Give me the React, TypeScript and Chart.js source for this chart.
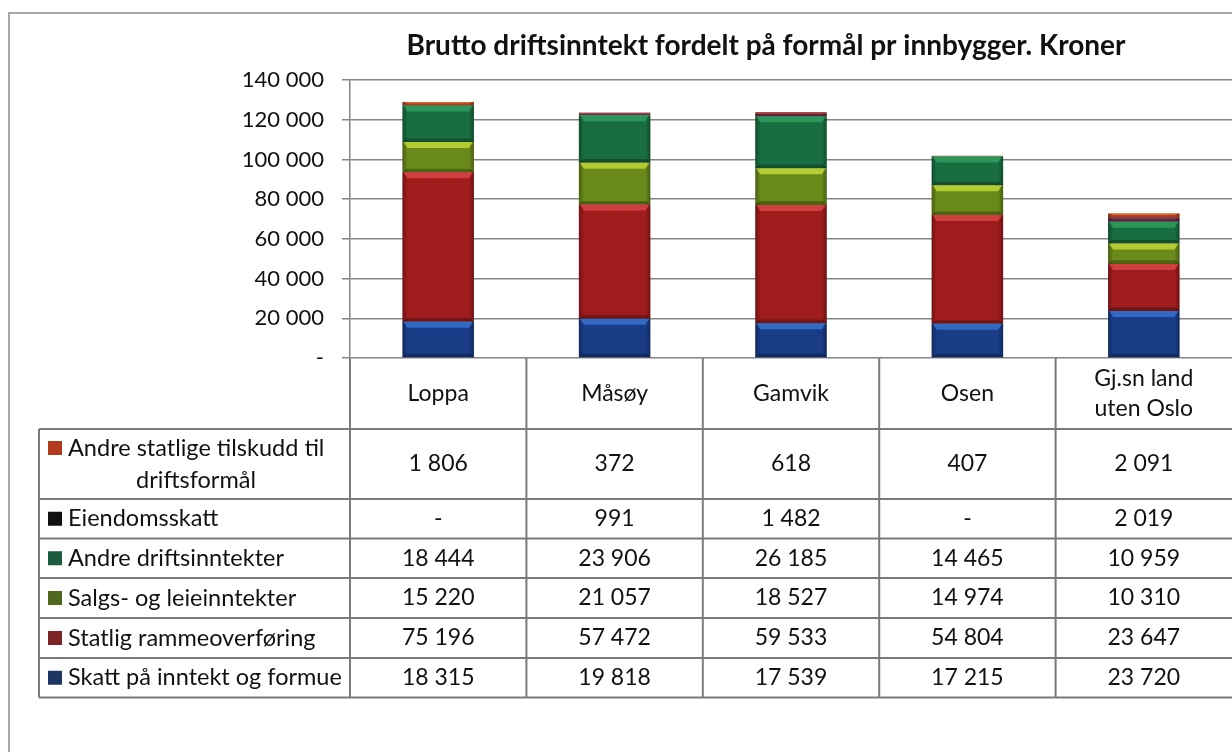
import React, { useEffect, useRef } from "react";
import { Chart, registerables } from "chart.js";

Chart.register(...registerables);

// ---------- DATA ----------
const categories = ["Loppa", "Måsøy", "Gamvik", "Osen", "Gj.sn land uten Oslo"];
const categoryLines = [["Loppa"], ["Måsøy"], ["Gamvik"], ["Osen"], ["Gj.sn land", "uten Oslo"]];

const skattValues = [18315, 19818, 17539, 17215, 23720];
const rammeValues = [75196, 57472, 59533, 54804, 23647];
const salgsValues = [15220, 21057, 18527, 14974, 10310];
const andreDriftValues = [18444, 23906, 26185, 14465, 10959];
const eiendomValues = [0, 991, 1482, 0, 2019];
const andreStatligeValues = [1806, 372, 618, 407, 2091];

const seriesNames = [
  "Skatt på inntekt og formue",
  "Statlig rammeoverføring",
  "Salgs- og leieinntekter",
  "Andre driftsinntekter",
  "Eiendomsskatt",
  "Andre statlige tilskudd til driftsformål",
];
const seriesLabelLines = [
  ["Skatt på inntekt og formue"],
  ["Statlig rammeoverføring"],
  ["Salgs- og leieinntekter"],
  ["Andre driftsinntekter"],
  ["Eiendomsskatt"],
  ["Andre statlige tilskudd til", "driftsformål"],
];
const seriesValues = [skattValues, rammeValues, salgsValues, andreDriftValues, eiendomValues, andreStatligeValues];

const titleText = "Brutto driftsinntekt fordelt på formål pr innbygger. Kroner";
const yMin = 0;
const yMax = 140000;
const yStep = 20000;

// ---------- STYLE ----------
const barColors = ["#1b3f8e", "#a81d1f", "#6f911b", "#1a7444", "#6a2846", "#c4441f"];
const barHighlights = ["#3a7ad8", "#e24a4a", "#cde23a", "#33a463", "#8e3d63", "#e8703c"];
const keyColors = ["#1c3563", "#7e2424", "#4f6a1c", "#1a5a3e", "#111111", "#b23a1c"];
const FONT = "Lato, 'Noto Sans', sans-serif";
const gridColor = "#858585";
const tableColor = "#7a7a7a";

const fmt = (v: number) => (v === 0 ? "-" : String(v).replace(/\B(?=(\d{3})+(?!\d))/g, " "));

const W = 1232;
const H = 752;
const PLOT_LEFT = 350;
const PLOT_TOP = 80;
const PLOT_BOTTOM = 358;
const HEADER_BOTTOM = 429;
const ROW_HEIGHTS = [70, 39.5, 39.5, 40, 40, 39.5]; // top-to-bottom rows
const TABLE_LEFT = 39;

const framePlugin = {
  id: "frame",
  beforeDraw(chart: any) {
    const ctx = chart.ctx;
    ctx.save();
    ctx.fillStyle = "#ffffff";
    ctx.fillRect(0, 0, W, H);
    ctx.strokeStyle = "#a8a8a8";
    ctx.lineWidth = 2;
    ctx.beginPath();
    ctx.moveTo(9, H);
    ctx.lineTo(9, 13);
    ctx.lineTo(W, 13);
    ctx.stroke();
    // title
    ctx.fillStyle = "#111";
    ctx.font = `bold 28px ${FONT}`;
    ctx.textAlign = "center";
    ctx.textBaseline = "middle";
    ctx.fillText(titleText, 766, 46);
    ctx.restore();
  },
};

const bevelPlugin = {
  id: "bevel",
  afterDatasetsDraw(chart: any) {
    const ctx = chart.ctx;
    ctx.save();
    chart.data.datasets.forEach((ds: any, di: number) => {
      const meta = chart.getDatasetMeta(di);
      meta.data.forEach((el: any) => {
        const p = el.getProps(["x", "y", "base", "width"], true);
        const top = Math.min(p.y, p.base);
        const bottom = Math.max(p.y, p.base);
        const h = bottom - top;
        if (h < 2) return;
        const left = p.x - p.width / 2;
        const right = p.x + p.width / 2;
        const b = Math.min(6, h * 0.35);
        const g = ctx.createLinearGradient(left, 0, right, 0);
        g.addColorStop(0, "rgba(0,0,0,0.35)");
        g.addColorStop(0.07, "rgba(0,0,0,0.05)");
        g.addColorStop(0.93, "rgba(0,0,0,0.05)");
        g.addColorStop(1, "rgba(0,0,0,0.35)");
        ctx.fillStyle = g;
        ctx.fillRect(left, top, right - left, h);
        ctx.fillStyle = barHighlights[di];
        ctx.globalAlpha = 0.75;
        ctx.beginPath();
        ctx.moveTo(left + 1, top);
        ctx.lineTo(right - 1, top);
        ctx.lineTo(right - 5, top + b);
        ctx.lineTo(left + 5, top + b);
        ctx.closePath();
        ctx.fill();
        ctx.globalAlpha = 1;
        ctx.fillStyle = "rgba(0,0,0,0.28)";
        ctx.beginPath();
        ctx.moveTo(left + 4, bottom - b * 0.6);
        ctx.lineTo(right - 4, bottom - b * 0.6);
        ctx.lineTo(right, bottom);
        ctx.lineTo(left, bottom);
        ctx.closePath();
        ctx.fill();
      });
    });
    ctx.restore();
  },
};

const tablePlugin = {
  id: "datatable",
  afterDraw(chart: any) {
    const ctx = chart.ctx;
    const xs = chart.scales.x;
    const n = categories.length;
    const centers = categories.map((_, i) => xs.getPixelForValue(i));
    const bounds: number[] = [chart.chartArea.left];
    for (let i = 1; i < n; i++) bounds.push((centers[i - 1] + centers[i]) / 2);
    bounds.push(chart.chartArea.right);

    const rowTops: number[] = [HEADER_BOTTOM];
    ROW_HEIGHTS.forEach((rh) => rowTops.push(rowTops[rowTops.length - 1] + rh));
    const tableBottom = rowTops[rowTops.length - 1];

    ctx.save();
    ctx.strokeStyle = tableColor;
    ctx.lineWidth = 2;
    rowTops.forEach((y) => {
      ctx.beginPath();
      ctx.moveTo(TABLE_LEFT, y);
      ctx.lineTo(W, y);
      ctx.stroke();
    });
    ctx.beginPath();
    ctx.moveTo(TABLE_LEFT, HEADER_BOTTOM);
    ctx.lineTo(TABLE_LEFT, tableBottom);
    ctx.stroke();
    for (let i = 0; i < n; i++) {
      ctx.beginPath();
      ctx.moveTo(bounds[i], PLOT_BOTTOM);
      ctx.lineTo(bounds[i], tableBottom);
      ctx.stroke();
    }

    ctx.fillStyle = "#111";
    ctx.font = `23px ${FONT}`;
    ctx.textBaseline = "middle";
    ctx.textAlign = "center";
    const hMid = (PLOT_BOTTOM + HEADER_BOTTOM) / 2;
    categoryLines.forEach((lines, i) => {
      const lh = 30;
      lines.forEach((t, li) => {
        ctx.fillText(t, centers[i], hMid + (li - (lines.length - 1) / 2) * lh);
      });
    });

    const order = seriesValues.map((_, i) => i).reverse();
    order.forEach((si, r) => {
      const top = rowTops[r];
      const bot = rowTops[r + 1];
      const mid = (top + bot) / 2;
      const lines = seriesLabelLines[si];
      const lh = 32;
      ctx.font = `23.5px ${FONT}`;
      lines.forEach((t, li) => {
        const y = mid + (li - (lines.length - 1) / 2) * lh;
        if (li === 0) {
          ctx.fillStyle = keyColors[si];
          ctx.fillRect(48, y - 7, 14, 14);
          ctx.fillStyle = "#111";
          ctx.textAlign = "left";
          ctx.fillText(t, 68, y);
        } else {
          ctx.textAlign = "center";
          ctx.fillText(t, 196, y);
        }
      });
      ctx.font = `23px ${FONT}`;
      ctx.textAlign = "center";
      seriesValues[si].forEach((v, ci) => {
        ctx.fillText(fmt(v), centers[ci], mid);
      });
    });
    ctx.restore();
  },
};

export default function App() {
  const ref = useRef<HTMLCanvasElement | null>(null);
  useEffect(() => {
    if (!ref.current) return;
    const chart = new Chart(ref.current, {
      type: "bar",
      data: {
        labels: categories,
        datasets: seriesNames.map((name, i) => ({
          label: name,
          data: seriesValues[i],
          backgroundColor: barColors[i],
          borderWidth: 0,
          barPercentage: 0.405,
          categoryPercentage: 1,
        })),
      },
      options: {
        responsive: false,
        animation: false,
        devicePixelRatio: 1,
        layout: { padding: { left: 0, top: PLOT_TOP, right: 0, bottom: H - PLOT_BOTTOM } },
        plugins: { legend: { display: false }, tooltip: { enabled: false }, title: { display: false } },
        scales: {
          x: { stacked: true, display: false },
          y: {
            stacked: true,
            min: yMin,
            max: yMax,
            afterFit: (s: any) => {
              s.width = PLOT_LEFT;
            },
            ticks: {
              stepSize: yStep,
              padding: 18,
              color: "#111",
              font: { family: FONT, size: 22 },
              callback: (v: any) => fmt(Number(v)),
            },
            grid: { color: gridColor, lineWidth: 1.5, tickLength: 8, drawTicks: true },
            border: { display: true, color: gridColor, width: 1.5 },
          },
        },
      },
      plugins: [framePlugin, bevelPlugin, tablePlugin],
    });
    return () => chart.destroy();
  }, []);
  return (
    <canvas
      ref={ref}
      width={W}
      height={H}
      style={{ position: "absolute", left: 0, top: 0, width: W, height: H }}
    />
  );
}
